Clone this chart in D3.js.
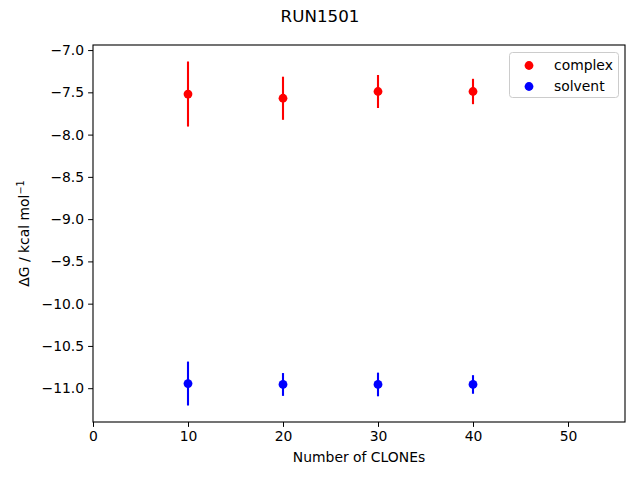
<!DOCTYPE html>
<html lang="en">
<head>
<meta charset="UTF-8">
<title>RUN1501</title>
<script src="https://d3js.org/d3.v7.min.js"></script>
<style>
  body { margin: 0; background: #fff; }
  svg text { font-family: "DejaVu Sans", sans-serif; fill: #000; }
</style>
</head>
<body>
<svg id="chart" width="640" height="480"></svg>
<script>
const clones = [10, 20, 30, 40];
const complexDG = [-7.52, -7.57, -7.49, -7.49];
const complexErr = [0.385, 0.255, 0.195, 0.15];
const solventDG = [-10.945, -10.956, -10.956, -10.956];
const solventErr = [0.26, 0.135, 0.14, 0.11];
const xTicks = [0, 10, 20, 30, 40, 50];
const yTicks = [-7.0, -7.5, -8.0, -8.5, -9.0, -9.5, -10.0, -10.5, -11.0];

const width = 640, height = 480;
const margin = { left: 93, right: 15, top: 45, bottom: 58 };
const svg = d3.select("#chart");

const x = d3.scaleLinear().domain([0, 56]).range([margin.left, width - margin.right]);
const y = d3.scaleLinear().domain([-11.40, -6.94]).range([height - margin.bottom, margin.top]);

const fmtMinus = f => v => f(v).replace("-", "\u2212");

svg.append("g")
    .attr("transform", `translate(0,${height - margin.bottom})`)
    .call(d3.axisBottom(x).tickValues(xTicks).tickSizeOuter(0).tickSize(4.9).tickPadding(4).tickFormat(d3.format("d")))
    .call(g => g.select(".domain").remove())
    .call(g => g.selectAll("text").attr("font-size", 13.9).style("font-family", "DejaVu Sans"));

svg.append("g")
    .attr("transform", `translate(${margin.left},0)`)
    .call(d3.axisLeft(y).tickValues(yTicks).tickSizeOuter(0).tickSize(4.9).tickPadding(4).tickFormat(fmtMinus(d3.format(".1f"))))
    .call(g => g.select(".domain").remove())
    .call(g => g.selectAll("text").attr("font-size", 13.9).style("font-family", "DejaVu Sans"));

// frame
svg.append("rect")
    .attr("x", margin.left).attr("y", margin.top)
    .attr("width", width - margin.left - margin.right)
    .attr("height", height - margin.top - margin.bottom)
    .attr("fill", "none").attr("stroke", "#000").attr("stroke-width", 1.1);

function drawSeries(vals, errs, color) {
    const g = svg.append("g");
    g.selectAll("line")
        .data(clones)
        .enter().append("line")
        .attr("x1", d => x(d)).attr("x2", d => x(d))
        .attr("y1", (d, i) => y(vals[i] - errs[i]))
        .attr("y2", (d, i) => y(vals[i] + errs[i]))
        .attr("stroke", color).attr("stroke-width", 2.1);
    g.selectAll("circle")
        .data(clones)
        .enter().append("circle")
        .attr("cx", d => x(d))
        .attr("cy", (d, i) => y(vals[i]))
        .attr("r", 4.4)
        .attr("fill", color);
}
drawSeries(complexDG, complexErr, "#ff0000");
drawSeries(solventDG, solventErr, "#0000ff");

// legend
const legend = svg.append("g");
legend.append("rect")
    .attr("x", 509.5).attr("y", 52.5).attr("width", 109).attr("height", 45)
    .attr("rx", 3).attr("fill", "#fff").attr("fill-opacity", 0.8)
    .attr("stroke", "#cccccc").attr("stroke-width", 1);
[["complex", "#ff0000"], ["solvent", "#0000ff"]].forEach(([label, color], i) => {
    legend.append("circle").attr("cx", 529).attr("cy", 65.5 + i * 21).attr("r", 4.4).attr("fill", color);
    legend.append("text").attr("x", 554).attr("y", 65.5 + i * 21).attr("dy", "0.35em")
        .attr("font-size", 13.9).text(label);
});

// titles
svg.append("text").attr("x", width / 2).attr("y", 22).attr("text-anchor", "middle")
    .attr("font-size", 16.7).text("RUN1501");
svg.append("text").attr("x", (margin.left + width - margin.right) / 2).attr("y", 462)
    .attr("text-anchor", "middle").attr("font-size", 13.9).text("Number of CLONEs");
const yl = svg.append("text")
    .attr("transform", `translate(29,${(margin.top + height - margin.bottom) / 2}) rotate(-90)`)
    .attr("text-anchor", "middle").attr("font-size", 13.9);
yl.append("tspan").text("\u0394G / kcal mol");
yl.append("tspan").attr("font-size", 9.7).attr("dy", -5).text("\u22121");
</script>
</body>
</html>
